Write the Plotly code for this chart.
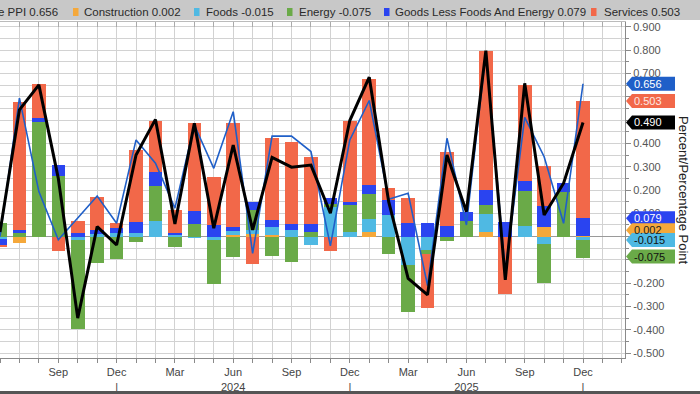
import plotly.graph_objects as go

# ---------------- data ----------------
months = ["Jun 2023", "Jul 2023", "Aug 2023", "Sep 2023", "Oct 2023", "Nov 2023", "Dec 2023",
          "Jan 2024", "Feb 2024", "Mar 2024", "Apr 2024", "May 2024", "Jun 2024", "Jul 2024",
          "Aug 2024", "Sep 2024", "Oct 2024", "Nov 2024", "Dec 2024", "Jan 2025", "Feb 2025",
          "Mar 2025", "Apr 2025", "May 2025", "Jun 2025", "Jul 2025", "Aug 2025", "Sep 2025",
          "Oct 2025", "Nov 2025", "Dec 2025"]

construction = [0.0, -0.026, 0.0, 0.0, 0.0, 0.0, 0.0,
                0.0, 0.0, 0.0, 0.0, 0.0, 0.008, 0.012,
                0.005, 0.0, 0.0, 0.0, 0.0, 0.019, 0.0,
                0.0, 0.0, 0.0, 0.0, 0.019, 0.0, 0.0,
                0.043, 0.0, 0.002]
foods = [-0.012, 0.0, 0.0, 0.0, -0.015, 0.011, 0.014,
         0.014, 0.068, 0.005, -0.007, -0.015, 0.015, 0.015,
         0.036, 0.028, -0.035, 0.126, 0.019, 0.057, 0.094,
         -0.122, -0.057, 0.0, 0.0, 0.076, 0.0, 0.047,
         -0.030, 0.0, -0.015]
energy = [0.058, 0.019, 0.490, 0.262, -0.383, -0.115, -0.095,
          -0.021, 0.151, -0.046, 0.054, -0.188, -0.086, 0.086,
          -0.083, -0.107, 0.020, 0.015, 0.117, 0.107, -0.074,
          -0.200, -0.017, -0.017, 0.066, 0.039, 0.0, 0.150,
          -0.170, 0.190, -0.075]
goods_less_food_energy = [-0.025, 0.008, 0.021, 0.047, 0.014, 0.017, 0.021,
                          0.050, 0.057, 0.012, 0.054, 0.051, 0.017, 0.036,
                          0.031, 0.026, 0.036, 0.026, 0.011, 0.040, 0.063,
                          0.057, 0.057, 0.047, 0.039, 0.067, 0.064, 0.043,
                          0.090, 0.039, 0.079]
services = [-0.006, 0.550, 0.146, -0.062, 0.055, 0.140, 0.024,
            0.307, 0.221, 0.097, 0.379, 0.204, 0.447, -0.117,
            0.352, 0.351, 0.286, -0.060, 0.348, 0.454, 0.051,
            0.110, -0.234, 0.318, 0.0, 0.595, -0.247, 0.411,
            0.170, 0.0, 0.503]
headline_ppi = [0.0, 0.594, 0.193, -0.014, 0.080, 0.174, 0.057,
                0.415, 0.315, 0.122, 0.479, 0.293, 0.536, -0.072,
                0.431, 0.431, 0.365, -0.040, 0.415, 0.584, 0.160,
                0.186, -0.210, 0.422, 0.050, 0.790, -0.150, 0.512,
                0.343, 0.057, 0.656]
component_sum = [0.020, 0.544, 0.651, 0.250, -0.350, 0.043, -0.036,
                 0.350, 0.503, 0.054, 0.486, 0.036, 0.393, 0.029,
                 0.340, 0.298, 0.307, 0.100, 0.498, 0.684, 0.150,
                 -0.179, -0.250, 0.350, 0.107, 0.798, -0.186, 0.658,
                 0.093, 0.229, 0.490]

x_tick_labels = ["Jun<br>2023", "Sep", "Dec<br>|", "Mar", "Jun<br>2024", "Sep", "Dec<br>|",
                 "Mar", "Jun<br>2025", "Sep", "Dec<br>|"]
y_tick_values = [-0.5, -0.4, -0.3, -0.2, -0.1, 0.0, 0.1, 0.2, 0.3, 0.4, 0.5, 0.6, 0.7, 0.8, 0.9]
# tick labels that the value tags cover completely in the reference
y_tick_hidden = [-0.1, 0.0, 0.5, 0.6]

# ---------------- style ----------------
C_CON = "#F5A83A"
C_FOOD = "#4FB9E3"
C_ENER = "#6AAA48"
C_GOOD = "#2A44F0"
C_SERV = "#F26849"
C_PPI = "#1F5FC8"
C_SUM = "#000000"
GRID = "#d2d2d2"
AXIS = "#8a8a8a"
FONT = "Liberation Sans"

x = list(range(len(months)))
x_ticks = list(range(0, len(months), 3))

YMIN, YMAX = -0.521, 0.921
PLOT_W, PLOT_H = 625, 336
PX_PER_UNIT = PLOT_H / (YMAX - YMIN)

fig = go.Figure()
bar_series = [("Construction", construction, C_CON),
              ("Foods", foods, C_FOOD),
              ("Energy", energy, C_ENER),
              ("Goods Less Foods And Energy", goods_less_food_energy, C_GOOD),
              ("Services", services, C_SERV)]
for name, vals, col in bar_series:
    fig.add_trace(go.Bar(x=x, y=vals, name=name, marker=dict(color=col, line=dict(width=0)),
                         width=0.7, hovertext=months))

fig.add_trace(go.Scatter(x=x, y=headline_ppi, mode="lines", name="Headline PPI",
                         line=dict(color=C_PPI, width=1.6)))
fig.add_trace(go.Scatter(x=x, y=component_sum, mode="lines", name="Sum",
                         line=dict(color=C_SUM, width=3)))
# helper trace for the top (mirrored) tick axis
fig.add_trace(go.Scatter(x=[0], y=[None], xaxis="x2", yaxis="y", showlegend=False,
                         hoverinfo="skip", mode="lines"))

ytext = []
for v in y_tick_values:
    if any(abs(v - h) < 1e-9 for h in y_tick_hidden):
        ytext.append("")
    else:
        ytext.append(f"{v:.3f}")

xrange = [0, 32.16]
fig.update_layout(
    width=700, height=394,
    margin=dict(l=0, r=75, t=22, b=36),
    barmode="relative", bargap=0,
    plot_bgcolor="white", paper_bgcolor="white",
    showlegend=False,
    font=dict(family=FONT, size=11, color="#444444"),
    xaxis=dict(range=xrange, tickmode="array", tickvals=x_ticks, ticktext=x_tick_labels,
               tickangle=0, ticks="outside", ticklen=4, tickcolor=AXIS,
               showgrid=True, gridcolor=GRID, gridwidth=1,
               minor=dict(dtick=1, tick0=0, ticks="outside", ticklen=4, tickcolor=AXIS,
                          showgrid=True, gridcolor=GRID, gridwidth=1),
               showline=True, linecolor=AXIS, linewidth=1, zeroline=False,
               automargin=False,
               tickfont=dict(family=FONT, size=11, color="#444444")),
    xaxis2=dict(range=xrange, overlaying="x", side="top", showticklabels=False,
                tickmode="array", tickvals=x_ticks, ticks="inside", ticklen=5, tickcolor="#aaaaaa",
                minor=dict(dtick=1, tick0=0, ticks="inside", ticklen=5, tickcolor="#aaaaaa",
                           showgrid=False),
                showgrid=False, showline=True, linecolor="#bbbbbb", zeroline=False,
                automargin=False),
    yaxis=dict(side="right", range=[YMIN, YMAX], tickmode="array", tickvals=y_tick_values,
               ticktext=ytext,
               ticks="outside", ticklen=5, tickcolor=AXIS,
               showgrid=True, gridcolor=GRID, gridwidth=1,
               minor=dict(dtick=0.05, tick0=0, ticks="outside", ticklen=3, tickcolor=AXIS,
                          showgrid=True, gridcolor=GRID, gridwidth=1),
               showline=True, linecolor=AXIS, linewidth=1,
               zeroline=True, zerolinecolor="#9a9a9a", zerolinewidth=1,
               automargin=False,
               tickfont=dict(family=FONT, size=11, color="#555555")),
)

shapes = []
annotations = []

def px_x(p):
    return p / PLOT_W

def px_y(p):
    return (PLOT_H + 22 - p) / PLOT_H

# legend band
shapes.append(dict(type="rect", xref="paper", yref="paper", x0=0, x1=px_x(700),
                   y0=px_y(20), y1=px_y(0), fillcolor="#c8c8c8", line=dict(width=0), layer="below"))
# bottom frame line
shapes.append(dict(type="line", xref="paper", yref="paper", x0=0, x1=px_x(700),
                   y0=px_y(392.5), y1=px_y(392.5), line=dict(color="#555555", width=3)))

# legend entries
LEG_FONT = dict(family=FONT, size=11.5, color="#2a2a2a")
annotations.append(dict(xref="paper", yref="paper", x=px_x(60), y=px_y(11.5), xanchor="right",
                        yanchor="middle", showarrow=False,
                        text=f"Headline PPI {headline_ppi[-1]:.3f}", font=LEG_FONT))
legend_pos = [(73, 82), (194, 204), (287, 297), (384, 393), (591, 602)]
for (name, vals, col), (sq, tx) in zip(bar_series, legend_pos):
    shapes.append(dict(type="rect", xref="paper", yref="paper", x0=px_x(sq), x1=px_x(sq + 5.5),
                       y0=px_y(16), y1=px_y(8), fillcolor=col, line=dict(width=0)))
    annotations.append(dict(xref="paper", yref="paper", x=px_x(tx), y=px_y(11.5), xanchor="left",
                            yanchor="middle", showarrow=False,
                            text=f"{name} {vals[-1]:.3f}", font=LEG_FONT))

# axis title
annotations.append(dict(xref="paper", yref="paper", x=px_x(684), y=0.5, textangle=90,
                        xanchor="center", yanchor="middle", showarrow=False,
                        text="Percent/Percentage Point",
                        font=dict(family=FONT, size=13, color="#222222")))

# last-value tags on the right axis: (value, pixel shift up, fill, text colour)
tags = [(headline_ppi[-1], 0, C_PPI, "white"),
        (services[-1], 18.5, C_SERV, "#fde9e4"),
        (component_sum[-1], 0, C_SUM, "white"),
        (goods_less_food_energy[-1], 0, C_GOOD, "white"),
        (construction[-1], 6, C_CON, "#222222"),
        (foods[-1], 0, C_FOOD, "#111111"),
        (energy[-1], -2.5, C_ENER, "#111111")]
hh = 7 / PX_PER_UNIT
tx0, tx1, tpt = px_x(626), px_x(675), px_x(632)
for val, shift, fill, tcol in tags:
    yc = val + shift / PX_PER_UNIT
    path = (f"M {tx0},{yc} L {tpt},{yc + hh} L {tx1},{yc + hh} "
            f"L {tx1},{yc - hh} L {tpt},{yc - hh} Z")
    shapes.append(dict(type="path", xref="paper", yref="y", path=path,
                       fillcolor=fill, line=dict(width=0), layer="above"))
    annotations.append(dict(xref="paper", yref="y", x=px_x(632), y=yc, xanchor="left",
                            yanchor="middle", showarrow=False, text=f"{val:.3f}",
                            font=dict(family=FONT, size=11, color=tcol)))

fig.update_layout(shapes=shapes, annotations=annotations)
fig.write_html("out.html", config={"displayModeBar": False},
               post_script="document.body.style.margin='0px';")
